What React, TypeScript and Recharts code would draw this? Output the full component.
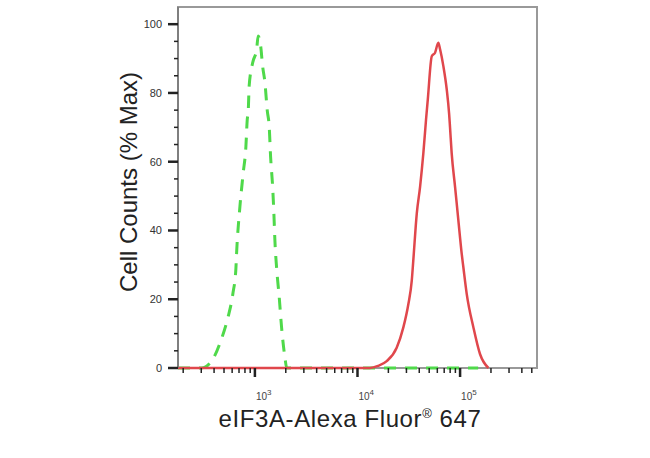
import { LineChart, Line, XAxis, YAxis, ReferenceArea } from 'recharts';

// fluorescence intensity (log axis) and % of max for each histogram
const isotypeX = [178, 251, 302, 378, 473, 546, 610, 653, 662, 714, 769, 817, 841, 862, 879, 951, 1040, 1076, 1138, 1189, 1253, 1318, 1380, 1422, 1489, 1531, 1567, 1629, 1726, 1820, 1963, 2042, 150000];
const isotypeY = [0, 0, 0, 2, 8.5, 14.7, 21.6, 29, 33, 46.9, 56.7, 64.4, 72, 75, 82, 88.8, 92.7, 96.6, 93.7, 87.8, 83, 75, 70, 61.5, 52.7, 45, 37, 29, 20.6, 11.8, 3, 0, 0];

const stainedX = [178, 13183, 15849, 19275, 24099, 27990, 31333, 33806, 34995, 37844, 40738, 43853, 46559, 48417, 52966, 57016, 61376, 63826, 68707, 74131, 78163, 79799, 82794, 89331, 96161, 103753, 107647, 116145, 134896, 156675, 188799];
const stainedY = [0, 0, 0.6, 2, 5.9, 11.8, 18.6, 25.4, 31.3, 45, 52.7, 62.5, 72.2, 78, 90.7, 91.7, 94.6, 92.7, 87.8, 81, 74, 70, 62.5, 52.7, 43, 33.2, 29.3, 21.5, 11.8, 4, 0];

const xTicks = [
  200, 300, 400, 500, 600, 700, 800, 900, 1000,
  2000, 3000, 4000, 5000, 6000, 7000, 8000, 9000, 10000,
  20000, 30000, 40000, 50000, 60000, 70000, 80000, 90000, 100000,
  200000, 300000, 400000, 500000,
];
const yTicks = [0, 5, 10, 15, 20, 25, 30, 35, 40, 45, 50, 55, 60, 65, 70, 75, 80, 85, 90, 95, 100];

const X_MIN = 178;
const X_MAX = 562000;
const Y_MAX = 105;

const isotypeData = isotypeX.map((x, i) => ({ x, y: isotypeY[i] }));
const stainedData = stainedX.map((x, i) => ({ x, y: stainedY[i] }));

const FONT = '"Liberation Sans", Arial, sans-serif';

function XTick(props: any) {
  const { x, y, payload } = props;
  const lg = Math.log10(payload.value);
  const exp = Math.round(lg);
  const major = Math.abs(lg - exp) < 1e-6;
  return (
    <g>
      <line x1={x} x2={x} y1={y} y2={y + (major ? 9 : 5)} stroke="#222" strokeWidth={major ? 2.5 : 1.5} />
      {major && (
        <text x={x + 1} y={y + 32} fontSize={10} fill="#444" fontFamily={FONT}>
          10
          <tspan dy={-5} fontSize={8}>{exp}</tspan>
        </text>
      )}
    </g>
  );
}

function YTick(props: any) {
  const { x, y, payload } = props;
  const v = payload.value;
  const major = v % 20 === 0;
  return (
    <g>
      <line x1={x - (major ? 10 : 4)} x2={x} y1={y} y2={y} stroke="#222" strokeWidth={major ? 2.5 : 1.5} />
      {major && (
        <text x={x - 16} y={y + 4} textAnchor="end" fontSize={11} fill="#333" fontFamily={FONT}>
          {v}
        </text>
      )}
    </g>
  );
}

const xTitle = () => (
  <text x={350} y={427} textAnchor="middle" fontSize={24} letterSpacing={0.6} fill="#222" fontFamily={FONT}>
    eIF3A-Alexa Fluor
    <tspan fontSize={13} dy={-9}>®</tspan>
    <tspan dy={9}> 647</tspan>
  </text>
);

const yTitle = () => (
  <text x={137} y={182} transform="rotate(-90, 137, 182)" textAnchor="middle" fontSize={24} fill="#222" fontFamily={FONT}>
    Cell Counts (% Max)
  </text>
);

export default function App() {
  return (
    <div style={styles.wrap}>
      <LineChart width={650} height={458} margin={{ top: 7, right: 113, bottom: 0, left: 0 }}>
        <XAxis
          type="number"
          dataKey="x"
          scale="log"
          domain={[X_MIN, X_MAX]}
          ticks={xTicks}
          interval={0}
          height={90}
          tickSize={0}
          tickMargin={0}
          tick={XTick}
          tickLine={false}
          axisLine={false}
          label={{ content: xTitle }}
        />
        <YAxis
          type="number"
          dataKey="y"
          domain={[0, Y_MAX]}
          ticks={yTicks}
          interval={0}
          width={178}
          tickSize={0}
          tickMargin={0}
          tick={YTick}
          tickLine={false}
          axisLine={{ stroke: '#777', strokeWidth: 1.5 }}
          label={{ content: yTitle }}
        />
        <ReferenceArea x1={X_MIN} x2={X_MAX} y1={0} y2={Y_MAX} fill="none" stroke="#999" strokeWidth={2} />
        <Line
          data={isotypeData}
          dataKey="y"
          type="monotone"
          stroke="#4fd94a"
          strokeWidth={3}
          strokeDasharray="12 9"
          dot={false}
          isAnimationActive={false}
        />
        <Line
          data={stainedData}
          dataKey="y"
          type="monotone"
          stroke="#e0474c"
          strokeWidth={2.5}
          dot={false}
          isAnimationActive={false}
        />
      </LineChart>
    </div>
  );
}

const styles: Record<string, React.CSSProperties> = {
  wrap: {
    position: 'absolute',
    left: 0,
    top: 0,
    width: 650,
    height: 458,
    background: '#fff',
  },
};
